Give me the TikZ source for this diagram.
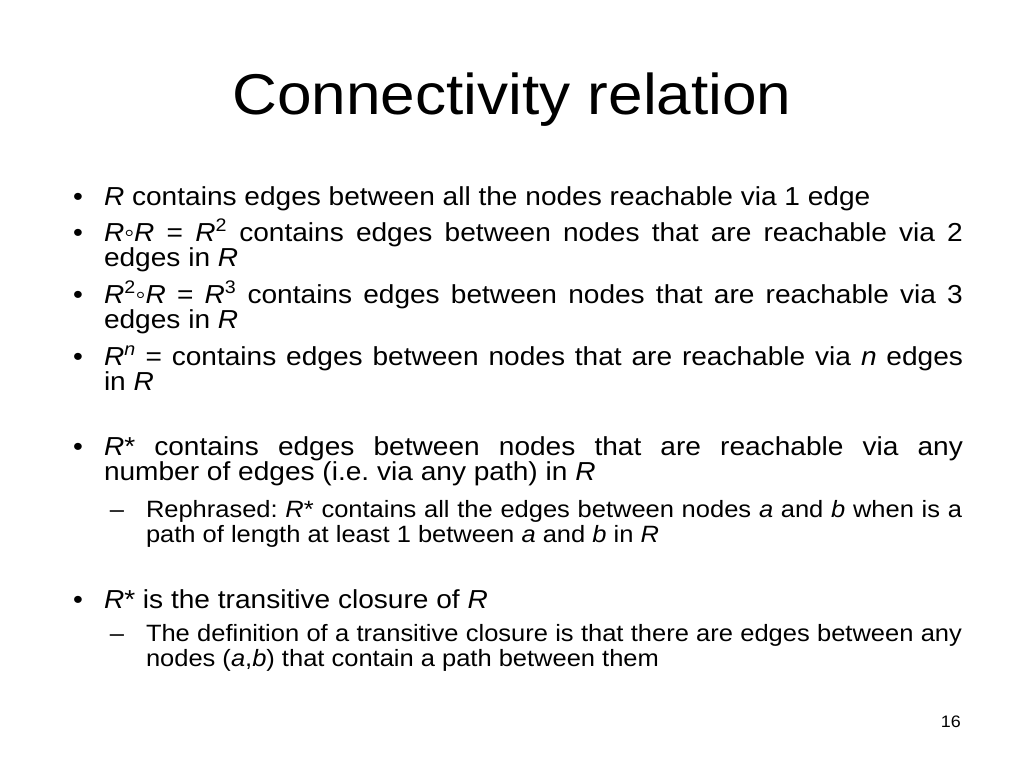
\documentclass[tikz,border=0pt]{standalone}
\usepackage{fontspec}
\setmainfont{Liberation Sans}[FakeStretch=1.08]
\newcommand\titlefnt{\fontsize{57.5}{60}\selectfont}
\newcommand\bodyfnt{\fontsize{26}{30}\selectfont}
\newcommand\subfnt{\fontsize{23.6}{27}\selectfont}
\newcommand\numfnt{\fontsize{16.6}{19}\selectfont}
\newcommand\R{\textit{R}}
\frenchspacing
\begin{document}
\begin{tikzpicture}[x=1pt,y=-1pt,
  ln/.style={anchor=base west, inner sep=0pt, outer sep=0pt, font=\bodyfnt},
  sl/.style={anchor=base west, inner sep=0pt, outer sep=0pt, font=\subfnt},
  bul/.style={anchor=base, inner sep=0pt, outer sep=0pt, font=\bodyfnt},
  dsh/.style={anchor=base, inner sep=0pt, outer sep=0pt, font=\subfnt}]
\useasboundingbox[fill=white] (0,0) rectangle (1024,768);
% title
\node[anchor=base, inner sep=0pt, font=\titlefnt] (title) at (512,114) {Connectivity relation};
% bullet 1
\node[bul] (b1) at (78,205) {•};
\node[ln] (l1) at (104,205) {\R{} contains edges between all the nodes reachable via 1 edge};
% bullet 2
\node[bul] (b2) at (78,241) {•};
\node[ln] (l2) at (104,241) {\makebox[859pt][s]{\R◦\R{} = \R\textsuperscript{2} contains edges between nodes that are reachable via 2}};
\node[ln] (l3) at (104,266) {edges in \R};
% bullet 3
\node[bul] (b3) at (78,303) {•};
\node[ln] (l4) at (104,303) {\makebox[859pt][s]{\R\textsuperscript{2}◦\R{} = \R\textsuperscript{3} contains edges between nodes that are reachable via 3}};
\node[ln] (l5) at (104,328) {edges in \R};
% bullet 4
\node[bul] (b4) at (78,365) {•};
\node[ln] (l6) at (104,365) {\makebox[859pt][s]{\R\textsuperscript{\textit{n}} = contains edges between nodes that are reachable via \textit{n} edges}};
\node[ln] (l7) at (104,390) {in \R};
% bullet 5
\node[bul] (b5) at (78,455) {•};
\node[ln] (l8) at (104,455) {\makebox[859pt][s]{\R* contains edges between nodes that are reachable via any}};
\node[ln] (l9) at (104,480) {number of edges (i.e. via any path) in \R};
\node[dsh] (d1) at (117,517) {–};
\node[sl] (s1) at (146,517) {\makebox[816pt][s]{Rephrased: \R* contains all the edges between nodes \textit{a} and \textit{b} when is a}};
\node[sl] (s2) at (146,542) {path of length at least 1 between \textit{a} and \textit{b} in \R};
% bullet 6
\node[bul] (b6) at (78,608) {•};
\node[ln] (l10) at (104,608) {\R* is the transitive closure of \R};
\node[dsh] (d2) at (117,641) {–};
\node[sl] (s3) at (146,641) {\makebox[816pt][s]{The definition of a transitive closure is that there are edges between any}};
\node[sl] (s4) at (146,666) {nodes (\textit{a},\textit{b}) that contain a path between them};
% page number
\node[anchor=base east, inner sep=0pt, font=\numfnt] (num) at (961,727) {16};
\end{tikzpicture}
\end{document}
